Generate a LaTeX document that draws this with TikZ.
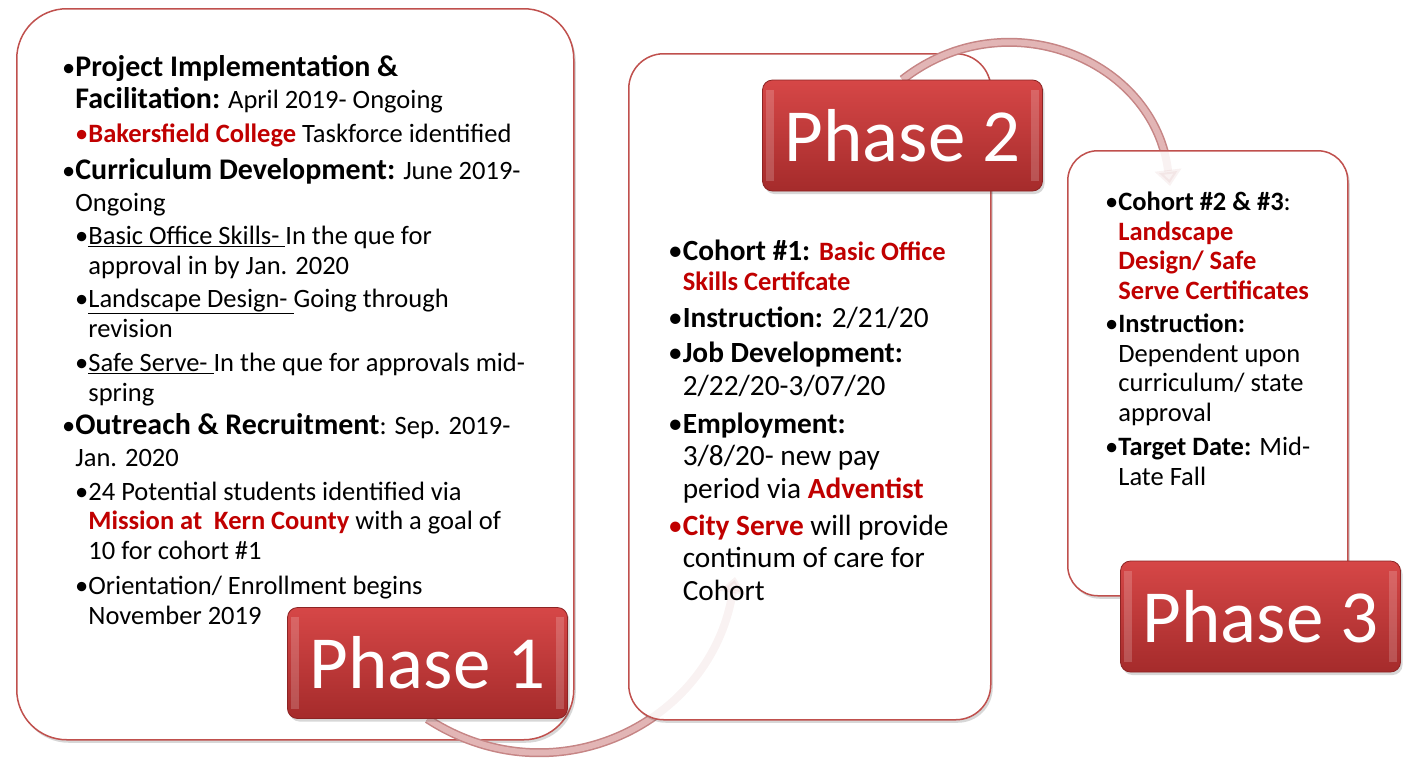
\documentclass[tikz,border=0pt]{standalone}
\usepackage{fontspec}
\setmainfont{Carlito}
\newfontfamily\headfont{Carlito}[Scale=1.13]
\usetikzlibrary{arrows.meta,positioning}

\definecolor{panelred}{HTML}{C0504D}
\definecolor{phasetop}{HTML}{D64747}
\definecolor{phasebot}{HTML}{A52B2B}
\definecolor{phaseedge}{HTML}{8C2424}
\definecolor{arcfill}{HTML}{E6BBBB}
\definecolor{arcedge}{HTML}{C68585}
\definecolor{hired}{HTML}{C00000}

\pgfdeclarelayer{front}
\pgfsetlayers{main,front}

\newcommand{\bul}{\textbullet}
\newcommand{\ind}{\phantom{\textbullet}}
\newcommand{\hi}[1]{\textcolor{hired}{\textbf{#1}}}
\newcommand{\hd}[1]{{\headfont\bfseries #1}}

\tikzset{
  softshadow/.style={preaction={fill=black!70, opacity=0.22, draw=none,
    transform canvas={shift={(2pt,-3pt)}}}},
  panel/.style={softshadow, draw=panelred, line width=1.5pt, fill=white,
    anchor=north west, inner sep=0pt},
  phasebox/.style={softshadow, rounded corners=10pt, top color=phasetop, bottom color=phasebot,
    draw=phaseedge, line width=0.8pt, text=white, minimum width=280pt, minimum height=111pt,
    font=\fontsize{75}{80}\selectfont},
  bevel/.style={fill=white, opacity=0.18},
  flow/.style={draw=arcfill, line width=6pt, preaction={draw=arcedge, line width=9pt},
    -{Triangle[length=16pt,width=26pt]}},
  ghost/.style={draw=arcedge, line width=8pt, opacity=0.1,
    -{Triangle[length=16pt,width=26pt]}},
  % text nodes are placed at the baseline of their last line
  txtbig/.style={anchor=base west, align=left, inner sep=0pt, font=\fontsize{26.5}{32}\selectfont},
  txtsub/.style={txtbig, font=\fontsize{26.5}{29.5}\selectfont},
  txtmid/.style={txtbig, font=\fontsize{29.3}{32.5}\selectfont},
  txtnarrow/.style={txtbig, font=\fontsize{26.5}{29.5}\selectfont}
}

\begin{document}
\begin{tikzpicture}[x=1pt,y=-1pt]
  \path[use as bounding box, fill=white] (0,0) rectangle (1405,761);

  % phase labels sit in front of everything
  \begin{pgfonlayer}{front}
    \node[phasebox] (p1) at (427.5,663) {Phase 1};
    \node[phasebox] (p2) at (902.5,135.5) {Phase 2};
    \node[phasebox] (p3) at (1260.5,616.5) {Phase 3};
    \foreach \p in {p1,p2,p3} {
      \fill[bevel] ([shift={(4,10)}]\p.north west) rectangle ([shift={(12,-10)}]\p.south west);
      \fill[bevel] ([shift={(-12,10)}]\p.north east) rectangle ([shift={(-4,-10)}]\p.south east);
    }
  \end{pgfonlayer}

  \coordinate (e1) at (735,577);
  \coordinate (e2) at (1170,186);

  % panels and arcs
  \node[panel, rounded corners=50pt, minimum width=557pt, minimum height=731pt] (b1) at (16,8) {};
  \draw[flow] (p1.south) .. controls (554,801) and (712,724) .. (e1);
  \node[panel, rounded corners=35pt, minimum width=362pt, minimum height=666pt] (b2) at (628,53) {};
  \draw[ghost] (p1.south) .. controls (554,801) and (712,724) .. (e1);
  \draw[flow] (p2.north) .. controls (1005,-1) and (1154,58) .. (e2);
  \node[panel, rounded corners=30pt, minimum width=280pt, minimum height=445pt] (b3) at (1067,150) {};
  \draw[ghost] (p2.north) .. controls (1005,-1) and (1154,58) .. (e2);

  % phase 1 text
  \node[txtbig] (t1) at (62,108) {\bul\hd{Project Implementation \&}\\\ind\hd{Facilitation:} April 2019- Ongoing};
  \node[txtbig] (t2) at (75,142) {\textcolor{hired}{\bul}\hi{Bakersfield College} Taskforce identified};
  \node[txtbig] (t3) at (62,211) {\bul\hd{Curriculum Development:} June 2019-\\\ind Ongoing};
  \node[txtsub] (t4) at (75,274) {\bul\underline{Basic Office Skills-\ }In the que for\\\ind approval in by Jan. 2020};
  \node[txtsub] (t5) at (75,337) {\bul\underline{Landscape Design-\ }Going through\\\ind revision};
  \node[txtsub] (t6) at (75,401) {\bul\underline{Safe Serve-\ }In the que for approvals mid-\\\ind spring};
  \node[txtbig] (t7) at (62,466) {\bul\hd{Outreach \& Recruitment}: Sep. 2019-\\\ind Jan. 2020};
  \node[txtsub] (t8) at (75,559) {\bul 24 Potential students identified via\\\ind\hi{Mission at\ \ Kern County} with a goal of\\\ind 10 for cohort \#1};
  \node[txtsub] (t9) at (75,624) {\bul Orientation/ Enrollment begins\\\ind November 2019};

  % phase 2 text
  \node[txtmid, font=\fontsize{29.3}{30}\selectfont] (u1) at (668,290) {\bul\textbf{Cohort \#1:} {\fontsize{26.5}{30}\selectfont\hi{Basic Office}}\\\ind{\fontsize{26.5}{30}\selectfont\hi{Skills Certifcate}}};
  \node[txtmid] (u2) at (668,327) {\bul\textbf{Instruction:} 2/21/20};
  \node[txtmid] (u3) at (668,395) {\bul\textbf{Job Development:}\\\ind 2/22/20-3/07/20};
  \node[txtmid] (u4) at (668,498) {\bul\textbf{Employment:}\\\ind 3/8/20- new pay\\\ind period via \hi{Adventist}};
  \node[txtmid] (u5) at (668,600) {\textcolor{hired}{\bul}\hi{City Serve} will provide\\\ind continum of care for\\\ind Cohort};

  % phase 3 text
  \node[txtnarrow] (v1) at (1105,299) {\bul\textbf{Cohort \#2 \& \#3}:\\\ind\hi{Landscape}\\\ind\hi{Design/ Safe}\\\ind\hi{Serve Certificates}};
  \node[txtnarrow] (v2) at (1105,421) {\bul\textbf{Instruction:}\\\ind Dependent upon\\\ind curriculum/ state\\\ind approval};
  \node[txtnarrow] (v3) at (1105,485) {\bul\textbf{Target Date:} Mid-\\\ind Late Fall};
\end{tikzpicture}
\end{document}
